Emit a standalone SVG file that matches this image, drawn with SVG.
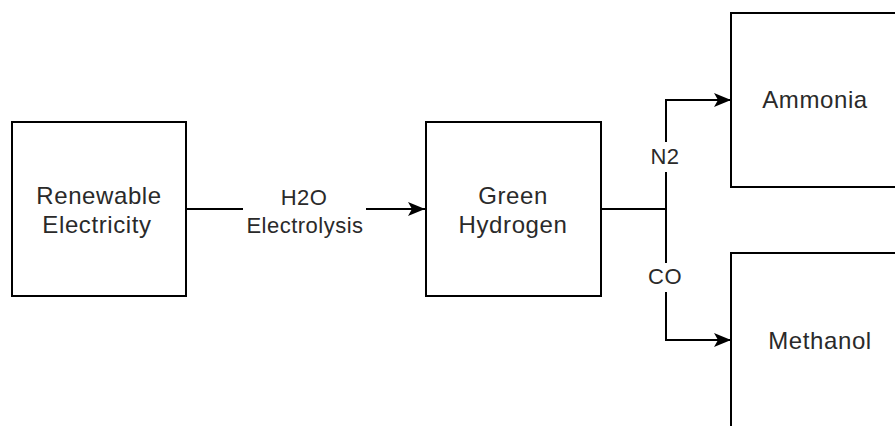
<svg xmlns="http://www.w3.org/2000/svg" width="895" height="426" viewBox="0 0 895 426">
<style>
.box{fill:#fff;stroke:#000;stroke-width:2}
.t{font-family:"Liberation Sans",Arial,sans-serif;font-size:24px;fill:#2a2a2a;text-anchor:middle;letter-spacing:0.6px}
.l{font-family:"Liberation Sans",Arial,sans-serif;font-size:22px;fill:#2a2a2a;text-anchor:middle;letter-spacing:0.5px}
.c{fill:none;stroke:#000;stroke-width:2}
</style>
<defs>
<marker id="arr" markerUnits="userSpaceOnUse" markerWidth="20" markerHeight="16" refX="17" refY="8" orient="auto">
<path d="M0,1 L17,8 L0,15 L4,8 Z" fill="#000"/>
</marker>
</defs>
<rect width="895" height="426" fill="#fff"/>
<g id="connectors">
<path class="c" d="M186,209 H243"/>
<path class="c" d="M366,209 H425" marker-end="url(#arr)"/>
<path class="c" d="M601,209 H666"/>
<path class="c" d="M666,209 V172"/>
<path class="c" d="M666,142 V100 H731" marker-end="url(#arr)"/>
<path class="c" d="M666,209 V263"/>
<path class="c" d="M666,292 V340 H731" marker-end="url(#arr)"/>
<text class="l" x="304" y="205">H2O</text>
<text class="l" x="305" y="233">Electrolysis</text>
<text class="l" x="665" y="164">N2</text>
<text class="l" x="665" y="284">CO</text>
</g>
<g id="renewable">
<rect class="box" x="12" y="122" width="174" height="174"/>
<text class="t" x="99" y="204">Renewable</text>
<text class="t" x="97" y="233">Electricity</text>
</g>
<g id="hydrogen">
<rect class="box" x="426" y="122" width="175" height="174"/>
<text class="t" x="513" y="204">Green</text>
<text class="t" x="513" y="233">Hydrogen</text>
</g>
<g id="ammonia">
<rect class="box" x="731" y="13" width="175" height="174"/>
<text class="t" x="815" y="108">Ammonia</text>
</g>
<g id="methanol">
<rect class="box" x="731" y="253" width="175" height="190"/>
<text class="t" x="820" y="349">Methanol</text>
</g>
</svg>
